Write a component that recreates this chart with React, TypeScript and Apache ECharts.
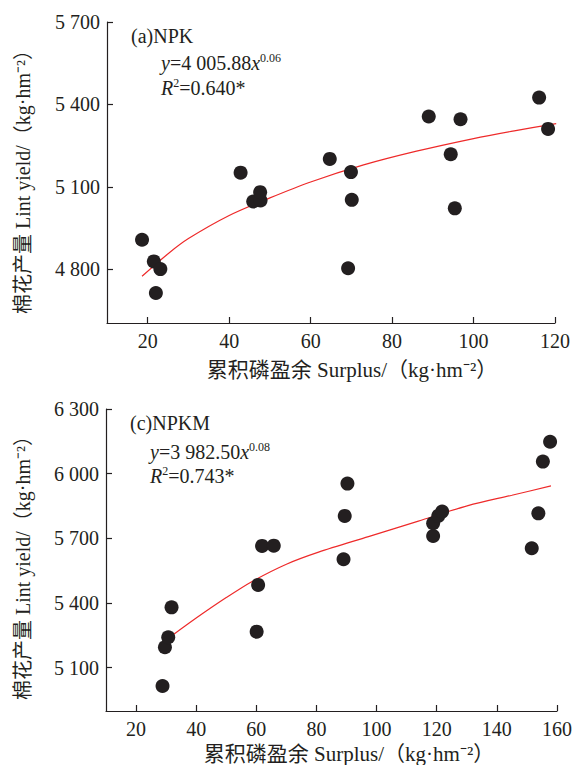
import React, { useEffect, useRef } from "react";
import * as echarts from "echarts";

// Panel (a) NPK
const npkSurplus = [18.6, 21.5, 23.1, 22.0, 42.8, 45.9, 47.7, 47.6, 64.7, 69.9, 70.1, 69.2, 89.0, 96.8, 94.4, 95.4, 116.1, 120.2, 118.3];
const npkYield = [4908, 4829, 4801, 4714, 5152, 5047, 5051, 5081, 5202, 5154, 5053, 4804, 5356, 5346, 5219, 5022, 5425, 5506, 5311];
const npkFitX = [18.6, 25, 30, 40, 50, 60, 73, 86, 100, 110, 120.3];
const npkFitY = [4775, 4857, 4912, 4996, 5060, 5118, 5180, 5230, 5276, 5304, 5330];

// Panel (c) NPKM
const npkmSurplus = [28.8, 29.6, 30.7, 31.8, 60.1, 60.6, 61.9, 65.8, 90.3, 89.4, 89.0, 118.8, 118.8, 120.5, 121.8, 151.6, 153.8, 155.3, 157.7];
const npkmYield = [5015, 5195, 5241, 5380, 5267, 5484, 5665, 5666, 5954, 5804, 5603, 5711, 5770, 5804, 5824, 5654, 5816, 6056, 6148];
const npkmFitX = [32.1, 40, 50, 58.6, 70, 80.7, 97.3, 113.9, 130.4, 145, 158.0];
const npkmFitY = [5250, 5330, 5425, 5500, 5580, 5636, 5708, 5780, 5852, 5900, 5943];

const xTicksA = [20, 40, 60, 80, 100, 120];
const yTicksA = [4800, 5100, 5400, 5700];
const xTicksC = [20, 40, 60, 80, 100, 120, 140, 160];
const yTicksC = [5100, 5400, 5700, 6000, 6300];

const FONT = "'Liberation Serif', 'Noto Sans CJK SC', serif";
const INK = "#231f20";
const RED = "#ee2a2a";

const xTitle = "累积磷盈余 Surplus/（kg·hm⁻²）";
const yTitle = "棉花产量 Lint yield/（kg·hm⁻²）";

const fmt = (v: number) => String(v).replace(/\B(?=(\d{3})+(?!\d))/g, " ");
const zip = (a: number[], b: number[]) => a.map((v, i) => [v, b[i]]);

function App() {
  const ref = useRef<HTMLDivElement>(null);
  useEffect(() => {
    if (!ref.current) return;
    const chart = echarts.init(ref.current, null, { renderer: "svg" });

    const axisCommon = {
      axisLine: { show: true, lineStyle: { color: INK, width: 1.2 } },
      axisTick: { show: true, inside: true, length: 6, lineStyle: { color: INK, width: 1.2 } },
      axisLabel: { color: INK, fontFamily: FONT, fontSize: 20, margin: 8 },
      splitLine: { show: false },
    };

    const rich = {
      i: { fontStyle: "italic", fontSize: 20, fontFamily: FONT, fill: INK, lineHeight: 22 },
      n: { fontSize: 20, fontFamily: FONT, fill: INK, lineHeight: 22 },
      s: { fontSize: 12, fontFamily: FONT, fill: INK, lineHeight: 12, verticalAlign: "top" },
    };

    const txt = (x: number, y: number, text: string, extra: any = {}) => ({
      type: "text",
      x,
      y,
      style: { text, fontSize: 20, fontFamily: FONT, fill: INK, textVerticalAlign: "middle", rich, ...extra },
    });

    const lineSeries = (idx: number, data: number[][]) => ({
      type: "line", xAxisIndex: idx, yAxisIndex: idx, data,
      smooth: 0.3, showSymbol: false,
      lineStyle: { color: RED, width: 1.2 }, z: 1,
    });

    chart.setOption({
      animation: false,
      grid: [
        { left: 107, top: 22, right: 20, bottom: 442 },
        { left: 106, top: 409, right: 16, bottom: 54 },
      ],
      xAxis: [
        {
          gridIndex: 0, type: "value", min: 10, max: 120, ...axisCommon,
          axisTick: { ...axisCommon.axisTick, customValues: xTicksA },
          axisLabel: { ...axisCommon.axisLabel, customValues: xTicksA },
        },
        {
          gridIndex: 1, type: "value", min: 10, max: 160, ...axisCommon,
          axisTick: { ...axisCommon.axisTick, customValues: xTicksC },
          axisLabel: { ...axisCommon.axisLabel, customValues: xTicksC },
        },
      ],
      yAxis: [
        {
          gridIndex: 0, type: "value", min: 4605, max: 5700, ...axisCommon,
          axisTick: { ...axisCommon.axisTick, customValues: yTicksA },
          axisLabel: { ...axisCommon.axisLabel, customValues: yTicksA, formatter: fmt, margin: 7 },
        },
        {
          gridIndex: 1, type: "value", min: 4899, max: 6300, ...axisCommon,
          axisTick: { ...axisCommon.axisTick, customValues: yTicksC },
          axisLabel: { ...axisCommon.axisLabel, customValues: yTicksC, formatter: fmt, margin: 7 },
        },
      ],
      series: [
        lineSeries(0, zip(npkFitX, npkFitY)),
        {
          type: "scatter", xAxisIndex: 0, yAxisIndex: 0, data: zip(npkSurplus, npkYield),
          symbolSize: 14, itemStyle: { color: INK, opacity: 1 }, z: 2,
        },
        lineSeries(1, zip(npkmFitX, npkmFitY)),
        {
          type: "scatter", xAxisIndex: 1, yAxisIndex: 1, data: zip(npkmSurplus, npkmYield),
          symbolSize: 14, itemStyle: { color: INK, opacity: 1 }, z: 2,
        },
      ],
      graphic: [
        txt(131, 36, "(a)NPK"),
        txt(161, 63, "{i|y}{n|=4 005.88}{i|x}{s|0.06}"),
        txt(161, 88, "{i|R}{s|2}{n|=0.640*}"),
        txt(130, 423, "(c)NPKM"),
        txt(150, 452, "{i|y}{n|=3 982.50}{i|x}{s|0.08}"),
        txt(150, 476, "{i|R}{s|2}{n|=0.743*}"),
        txt(352, 370, xTitle, { textAlign: "center", fontSize: 21 }),
        txt(349, 754, xTitle, { textAlign: "center", fontSize: 21 }),
        { ...txt(23, 177, yTitle, { textAlign: "center" }), rotation: Math.PI / 2 },
        { ...txt(23, 563, yTitle, { textAlign: "center" }), rotation: Math.PI / 2 },
      ],
    });
    return () => chart.dispose();
  }, []);
  return <div ref={ref} style={{ width: 575, height: 765, position: "absolute", left: 0, top: 0 }} />;
}

export default App;
